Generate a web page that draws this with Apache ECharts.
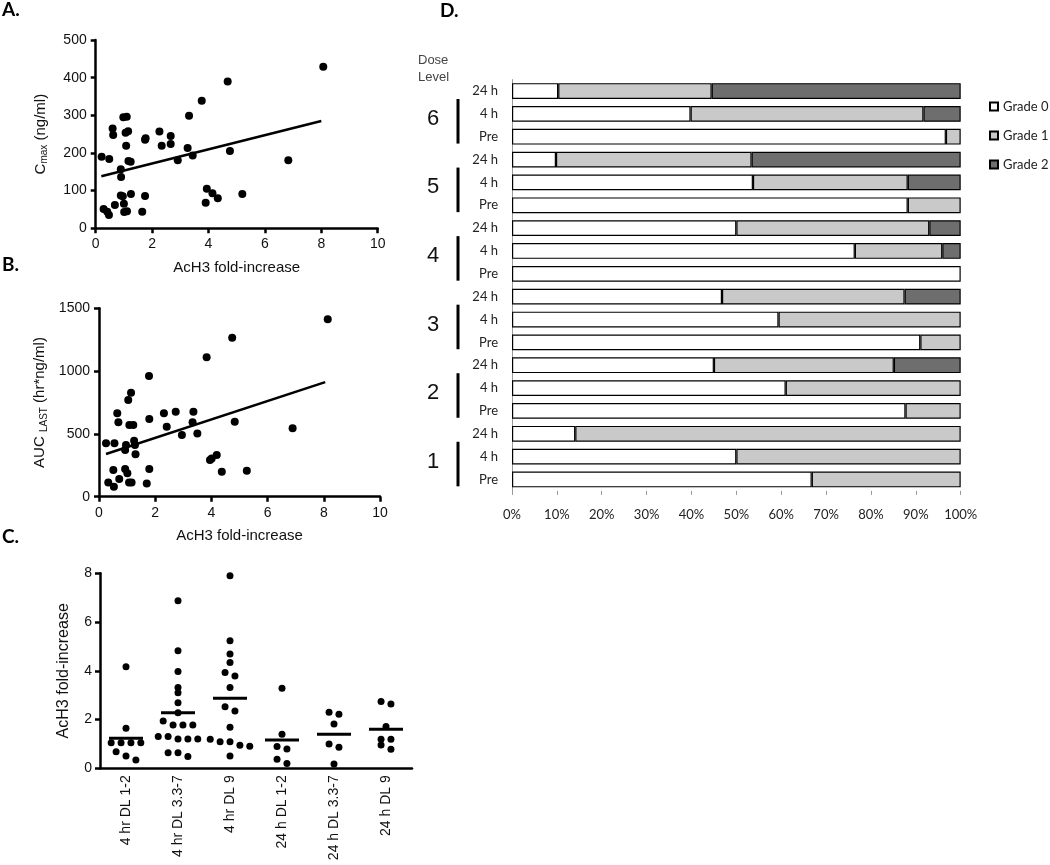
<!DOCTYPE html>
<html>
<head>
<meta charset="utf-8">
<script src="https://cdn.jsdelivr.net/npm/echarts@6/dist/echarts.min.js"></script>
<style>
  html, body { margin: 0; padding: 0; background: #fff; }
  #main { width: 1050px; height: 865px; }
</style>
</head>
<body>
<div id="main"></div>
<script>
// A. Cmax vs AcH3 fold-increase
const aX = [0.21, 0.48, 0.28, 0.41, 0.47, 0.60, 0.62, 0.68, 0.89, 0.90, 0.89, 0.96, 0.98, 1.10, 1.06, 1.15, 1.08, 1.16, 1.24,
  1.00, 1.01, 1.11, 1.25, 1.65, 1.75, 1.75, 1.77, 2.26, 2.34, 2.66, 2.66, 2.91, 3.26, 3.31, 3.44, 3.76, 3.90, 3.94,
  4.14, 4.33, 4.68, 4.76, 5.20, 6.83, 8.07];
const aY = [190, 184, 51, 44, 35, 265, 248, 62, 157, 136, 87, 85, 295, 296, 254, 258, 219, 179, 177,
  65, 43, 45, 91, 44, 86, 235, 239, 257, 219, 245, 224, 181, 213, 299, 193, 339, 68, 105,
  93, 80, 390, 205, 91, 181, 429];
const aFit = [[0.2, 138], [8.0, 285]];

// B. AUC LAST vs AcH3 fold-increase
const bX = [0.25, 0.55, 0.33, 0.51, 0.53, 0.65, 0.69, 0.72, 1.04, 1.14, 1.08, 1.22, 0.96, 0.93, 1.25, 1.28, 1.30, 0.93, 1.01,
  1.07, 1.16, 1.78, 1.79, 1.79, 1.70, 2.31, 2.41, 2.73, 2.95, 3.36, 3.33, 3.50, 3.83, 3.95, 4.01, 4.19, 4.37, 4.74,
  4.83, 5.26, 6.89, 8.14];
const bY = [425, 425, 114, 212, 80, 664, 592, 141, 770, 828, 571, 571, 411, 372, 446, 411, 337, 220, 186,
  114, 114, 961, 619, 220, 106, 664, 557, 677, 491, 677, 592, 504, 1110, 292, 305, 332, 199, 1266,
  597, 207, 544, 1412];
const bFit = [[0.25, 340], [8.05, 912]];

// C. AcH3 fold-increase by group, with the drawn group means
const cGroups = ['4 hr DL 1-2', '4 hr DL 3.3-7', '4 hr DL 9', '24 h DL 1-2', '24 h DL 3.3-7', '24 h DL 9'];
const c1 = [4.17, 1.64, 1.05, 1.05, 1.05, 1.05, 0.68, 0.5, 0.34];
const c2 = [6.87, 4.82, 3.97, 3.31, 3.1, 2.69, 2.28, 1.94, 1.78, 1.78, 1.78, 1.3, 1.2, 1.2, 1.2, 1.3, 0.64, 0.64, 0.48];
const c3 = [7.9, 5.23, 4.69, 4.34, 3.93, 3.79, 3.31, 2.53, 2.35, 1.68, 1.19, 1.09, 0.95, 0.9, 1.09, 0.5];
const c4 = [3.28, 1.4, 0.89, 0.79, 0.37, 0.2];
const c5 = [2.3, 2.22, 1.82, 1.0, 0.86, 0.18];
const c6 = [2.74, 2.64, 1.71, 1.19, 1.19, 0.96, 0.78];
const cValues = [c1, c2, c3, c4, c5, c6];
const cMeans = [1.23, 2.28, 2.87, 1.16, 1.40, 1.60];

// D. grade distribution per dose level / time point (top to bottom)
const doseLevels = [6, 5, 4, 3, 2, 1];
const timePoints = ['24 h', '4 h', 'Pre'];
const grade0 = [10.3, 39.8, 96.7, 9.8, 53.7, 88.2, 50.0, 76.4, 100, 46.8, 59.4, 91.0, 45.0, 61.0, 87.7, 14.1, 50.0, 66.8];
const grade1 = [34.2, 51.9, 3.3, 43.6, 34.5, 11.8, 43.0, 19.5, 0, 40.7, 40.6, 9.0, 40.1, 39.0, 12.3, 85.9, 50.0, 33.2];
const grade2 = [55.5, 8.3, 0, 46.6, 11.8, 0, 7.0, 4.1, 0, 12.5, 0, 0, 14.9, 0, 0, 0, 0, 0];

const sans = 'Liberation Sans';
const calibri = 'Lato';

const myChart = echarts.init(document.querySelector('#main'));

const zip = (xs, ys) => xs.map((x, i) => [x, ys[i]]);

// dot plot layout: points with close values share a row, spread evenly round the centre
function swarm(vals, k) {
  const sorted = vals.slice().sort((p, q) => q - p);
  const rows = [];
  sorted.forEach(v => {
    const last = rows[rows.length - 1];
    if (last && last[last.length - 1] - v < 0.2) last.push(v);
    else rows.push([v]);
  });
  const out = [];
  rows.forEach(row => {
    row.forEach((v, i) => out.push([k + (i - (row.length - 1) / 2) * 0.19, v]));
  });
  return out;
}

const rowKeys = [];
doseLevels.forEach(d => timePoints.forEach(t => rowKeys.push(d + '|' + t)));

const blackAxis = {
  axisLine: {onZero: false, lineStyle: {color: '#000', width: 2.5}},
  axisTick: {length: 5, lineStyle: {color: '#000', width: 2.5}},
  splitLine: {show: false},
  axisLabel: {color: '#111', fontFamily: sans, fontSize: 14, margin: 9, formatter: v => String(v)}
};
const nameStyle = {color: '#111', fontFamily: sans, fontSize: 15};
const subRich = {
  m: {fontFamily: sans, fontSize: 15, color: '#111', lineHeight: 18},
  s: {fontFamily: sans, fontSize: 10, color: '#111', verticalAlign: 'bottom', lineHeight: 18, padding: [6, 0, 0, 0]}
};

const option = {
  animation: false,
  backgroundColor: '#fff',
  grid: [
    {left: 95.7, top: 40, width: 282, height: 188.3},
    {left: 99, top: 308.3, width: 281, height: 188.4},
    {left: 100, top: 573.3, width: 312, height: 195},
    {left: 512, top: 79.6, width: 448.7, height: 411.3}
  ],
  xAxis: [
    Object.assign({}, blackAxis, {
      gridIndex: 0, type: 'value', min: 0, max: 10, interval: 2,
      name: 'AcH3 fold-increase', nameLocation: 'middle', nameGap: 32, nameTextStyle: nameStyle
    }),
    Object.assign({}, blackAxis, {
      gridIndex: 1, type: 'value', min: 0, max: 10, interval: 2,
      name: 'AcH3 fold-increase', nameLocation: 'middle', nameGap: 32, nameTextStyle: nameStyle
    }),
    Object.assign({}, blackAxis, {
      gridIndex: 2, type: 'category', data: cGroups,
      axisTick: {alignWithLabel: true, length: 5, lineStyle: {color: '#000', width: 2.5}},
      axisLabel: {color: '#111', fontFamily: sans, fontSize: 14, rotate: 90, margin: 7}
    }),
    {gridIndex: 2, type: 'value', min: -0.5, max: 5.5, show: false},
    {
      gridIndex: 3, type: 'value', min: 0, max: 100, interval: 10,
      axisLine: {show: false},
      axisTick: {show: true, length: 4, lineStyle: {color: '#999'}},
      splitLine: {show: false},
      axisLabel: {color: '#222', fontFamily: calibri, fontSize: 13, margin: 17, formatter: '{value}%'}
    }
  ],
  yAxis: [
    Object.assign({}, blackAxis, {
      gridIndex: 0, type: 'value', min: 0, max: 500, interval: 100,
      name: '{m|C}{s|max}{m| (ng/ml)}', nameLocation: 'middle', nameGap: 46,
      nameTextStyle: Object.assign({rich: subRich}, nameStyle)
    }),
    Object.assign({}, blackAxis, {
      gridIndex: 1, type: 'value', min: 0, max: 1500, interval: 500,
      name: '{m|AUC }{s|LAST}{m| (hr*ng/ml)}', nameLocation: 'middle', nameGap: 50,
      nameTextStyle: Object.assign({rich: subRich}, nameStyle)
    }),
    Object.assign({}, blackAxis, {
      gridIndex: 2, type: 'value', min: 0, max: 8, interval: 2,
      axisLabel: {color: '#111', fontFamily: sans, fontSize: 14, margin: 8},
      name: 'AcH3 fold-increase', nameLocation: 'middle', nameGap: 28,
      nameTextStyle: {color: '#111', fontFamily: sans, fontSize: 16}
    }),
    {
      gridIndex: 3, type: 'category', inverse: true, data: rowKeys,
      axisLine: {show: true, onZero: false, lineStyle: {color: '#999', width: 1}},
      axisTick: {show: false},
      axisLabel: {
        color: '#222', fontFamily: calibri, fontSize: 13, margin: 14,
        formatter: v => v.split('|')[1]
      }
    }
  ],
  legend: {
    data: ['Grade 0', 'Grade 1', 'Grade 2'],
    orient: 'vertical', left: 989, top: 100, padding: 0,
    icon: 'rect', itemWidth: 8, itemHeight: 8, itemGap: 16,
    textStyle: {color: '#222', fontFamily: calibri, fontSize: 13}
  },
  graphic: [
    {type: 'text', left: 2, top: 0, style: {text: 'A.', fontFamily: calibri, fontWeight: 'bold', fontSize: 19, fill: '#000'}},
    {type: 'text', left: 2, top: 255, style: {text: 'B.', fontFamily: calibri, fontWeight: 'bold', fontSize: 19, fill: '#000'}},
    {type: 'text', left: 2, top: 527, style: {text: 'C.', fontFamily: calibri, fontWeight: 'bold', fontSize: 19, fill: '#000'}},
    {type: 'text', left: 440, top: 1, style: {text: 'D.', fontFamily: calibri, fontWeight: 'bold', fontSize: 19, fill: '#000'}},
    {type: 'text', left: 418, top: 52, style: {text: 'Dose\nLevel', fontFamily: sans, fontSize: 13, lineHeight: 17, fill: '#444'}}
  ],
  series: [
    {
      type: 'scatter', xAxisIndex: 0, yAxisIndex: 0, symbolSize: 8,
      itemStyle: {color: '#000', opacity: 1}, data: zip(aX, aY)
    },
    {
      type: 'line', xAxisIndex: 0, yAxisIndex: 0, symbol: 'none',
      lineStyle: {color: '#000', width: 2.5}, data: aFit
    },
    {
      type: 'scatter', xAxisIndex: 1, yAxisIndex: 1, symbolSize: 8,
      itemStyle: {color: '#000', opacity: 1}, data: zip(bX, bY)
    },
    {
      type: 'line', xAxisIndex: 1, yAxisIndex: 1, symbol: 'none',
      lineStyle: {color: '#000', width: 2.5}, data: bFit
    },
    {
      type: 'scatter', xAxisIndex: 3, yAxisIndex: 2, symbolSize: 7,
      itemStyle: {color: '#000', opacity: 1},
      data: [].concat(...cValues.map((vals, k) => swarm(vals, k)))
    },
    {
      type: 'scatter', xAxisIndex: 3, yAxisIndex: 2, symbol: 'rect', symbolSize: [34, 3],
      itemStyle: {color: '#000', opacity: 1},
      data: cMeans.map((m, k) => [k, m])
    },
    {
      name: 'Grade 0', type: 'bar', stack: 'grade', xAxisIndex: 4, yAxisIndex: 3,
      barCategoryGap: '31%',
      itemStyle: {color: '#ffffff', borderColor: '#000', borderWidth: 1.2},
      data: grade0
    },
    {
      name: 'Grade 1', type: 'bar', stack: 'grade', xAxisIndex: 4, yAxisIndex: 3,
      barCategoryGap: '31%',
      itemStyle: {color: '#c9c9c9', borderColor: '#000', borderWidth: 1.2},
      data: grade1.map(v => v || '-')
    },
    {
      name: 'Grade 2', type: 'bar', stack: 'grade', xAxisIndex: 4, yAxisIndex: 3,
      barCategoryGap: '31%',
      itemStyle: {color: '#6e6e6e', borderColor: '#000', borderWidth: 1.2},
      data: grade2.map(v => v || '-')
    },
    {
      // dose level numbers and bracket lines, placed next to each 4 h row
      type: 'custom', xAxisIndex: 4, yAxisIndex: 3, silent: true,
      encode: {x: 0, y: 1},
      data: doseLevels.map((d, i) => [0, i * 3 + 1, d]),
      renderItem: function (params, api) {
        const p = api.coord([0, api.value(1)]);
        const band = api.size([0, 1])[1];
        return {
          type: 'group',
          children: [
            {
              type: 'text', x: p[0] - 79, y: p[1] + 5,
              style: {text: String(api.value(2)), fontFamily: sans, fontSize: 22, fill: '#111',
                align: 'center', verticalAlign: 'middle'}
            },
            {
              type: 'line',
              shape: {x1: p[0] - 54, y1: p[1] - 0.65 * band, x2: p[0] - 54, y2: p[1] + 1.3 * band},
              style: {stroke: '#000', lineWidth: 3}
            }
          ]
        };
      }
    }
  ]
};

myChart.setOption(option);
</script>
</body>
</html>
